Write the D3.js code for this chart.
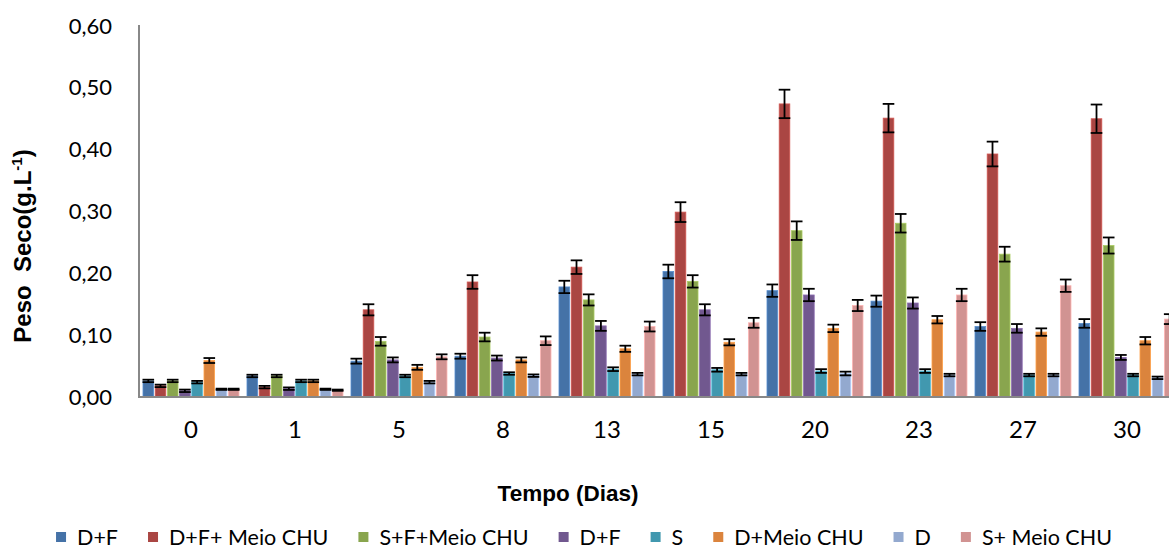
<!DOCTYPE html>
<html>
<head>
<meta charset="utf-8">
<script src="https://cdn.jsdelivr.net/npm/d3@7"></script>
<style>
  html, body { margin: 0; padding: 0; background: #fff; }
  svg { display: block; }
</style>
</head>
<body>
<div id="chart"></div>
<script>
// ---- data ----
const days = ["0", "1", "5", "8", "13", "15", "20", "23", "27", "30"];
const seriesNames = ["D+F", "D+F+ Meio CHU", "S+F+Meio CHU", "D+F", "S", "D+Meio CHU", "D", "S+ Meio CHU"];
const seriesColors = ["#4572A7", "#AA4643", "#89A54E", "#71588F", "#4198AF", "#DB843D", "#93A9CF", "#D19392"];

const dfValues      = [0.026, 0.034, 0.058, 0.066, 0.178, 0.203, 0.172, 0.155, 0.114, 0.119];
const dfMeioValues  = [0.018, 0.016, 0.141, 0.186, 0.210, 0.299, 0.474, 0.451, 0.393, 0.450];
const sfMeioValues  = [0.026, 0.034, 0.090, 0.097, 0.157, 0.187, 0.269, 0.281, 0.231, 0.245];
const df2Values     = [0.010, 0.0135, 0.060, 0.063, 0.115, 0.141, 0.165, 0.152, 0.111, 0.064];
const sValues       = [0.024, 0.026, 0.034, 0.038, 0.045, 0.044, 0.042, 0.042, 0.0355, 0.0355];
const dMeioValues   = [0.059, 0.026, 0.048, 0.060, 0.078, 0.0885, 0.111, 0.125, 0.105, 0.091];
const dValues       = [0.0125, 0.0125, 0.024, 0.0345, 0.037, 0.037, 0.038, 0.0355, 0.0355, 0.031];
const sMeioValues   = [0.0125, 0.011, 0.065, 0.091, 0.114, 0.120, 0.148, 0.165, 0.180, 0.126];

const dfErr      = [0.002, 0.002, 0.004, 0.004, 0.010, 0.011, 0.010, 0.009, 0.007, 0.007];
const dfMeioErr  = [0.002, 0.002, 0.009, 0.011, 0.011, 0.016, 0.023, 0.023, 0.020, 0.023];
const sfMeioErr  = [0.002, 0.002, 0.007, 0.007, 0.009, 0.010, 0.015, 0.015, 0.012, 0.013];
const df2Err     = [0.002, 0.002, 0.004, 0.004, 0.008, 0.009, 0.010, 0.009, 0.007, 0.004];
const sErr       = [0.002, 0.002, 0.002, 0.002, 0.003, 0.003, 0.003, 0.003, 0.002, 0.002];
const dMeioErr   = [0.004, 0.002, 0.004, 0.004, 0.005, 0.005, 0.006, 0.006, 0.006, 0.006];
const dErr       = [0.001, 0.001, 0.002, 0.002, 0.002, 0.002, 0.003, 0.002, 0.002, 0.002];
const sMeioErr   = [0.001, 0.001, 0.004, 0.007, 0.008, 0.008, 0.009, 0.010, 0.010, 0.008];

const yTicks = [0, 0.1, 0.2, 0.3, 0.4, 0.5, 0.6];

const allValues = [dfValues, dfMeioValues, sfMeioValues, df2Values, sValues, dMeioValues, dValues, sMeioValues];
const allErrors = [dfErr, dfMeioErr, sfMeioErr, df2Err, sErr, dMeioErr, dErr, sMeioErr];

// ---- layout ----
const W = 1169, H = 550;
const plotLeft = 139, plotBottom = 397, plotTop = 26;
const bandStep = 104;

const svg = d3.select("#chart").append("svg")
  .attr("width", W).attr("height", H);

const x0 = d3.scaleBand()
  .domain(days)
  .range([plotLeft, plotLeft + bandStep * days.length])
  .paddingInner(0).paddingOuter(0);

const x1 = d3.scaleBand()
  .domain(d3.range(seriesNames.length))
  .range([4, bandStep - 4])
  .paddingInner(0.13);

const y = d3.scaleLinear().domain([0, 0.6]).range([plotBottom, plotTop]);

const fmt = v => d3.format(".2f")(v).replace(".", ",");

// y tick labels
const yAxis = d3.axisLeft(y).tickValues(yTicks).tickFormat(fmt).tickSize(0).tickPadding(27);
const gy = svg.append("g").attr("transform", `translate(${plotLeft},0)`).call(yAxis);
gy.select(".domain").remove();
gy.selectAll("text")
  .attr("font-family", "Lato, 'Open Sans', sans-serif")
  .attr("font-size", 22)
  .attr("fill", "#000");

const cells = [];
days.forEach((d, i) => {
  allValues.forEach((vals, s) => {
    cells.push({ day: d, s, v: vals[i], e: allErrors[s][i] });
  });
});

// bars
const barG = svg.append("g");
barG.selectAll("rect")
  .data(cells)
  .join("rect")
  .attr("x", c => x0(c.day) + x1(c.s))
  .attr("y", c => y(c.v))
  .attr("width", x1.bandwidth())
  .attr("height", c => y(0) - y(c.v))
  .attr("fill", c => seriesColors[c.s])
  .attr("stroke", c => d3.color(seriesColors[c.s]).brighter(0.6))
  .attr("stroke-width", 0.8);

// error bars
const errG = svg.append("g").attr("stroke", "#000").attr("stroke-width", 1.8);
cells.forEach(c => {
  const cx = x0(c.day) + x1(c.s) + x1.bandwidth() / 2;
  const hw = x1.bandwidth() / 2 + 0.5;
  const yt = y(c.v + c.e), yb = y(c.v - c.e);
  errG.append("line").attr("x1", cx).attr("x2", cx).attr("y1", yt).attr("y2", yb);
  errG.append("line").attr("x1", cx - hw).attr("x2", cx + hw).attr("y1", yt).attr("y2", yt);
  errG.append("line").attr("x1", cx - hw).attr("x2", cx + hw).attr("y1", yb).attr("y2", yb);
});

// axis lines
svg.append("line")
  .attr("x1", plotLeft).attr("x2", plotLeft)
  .attr("y1", y(0.6) - 1).attr("y2", plotBottom + 1)
  .attr("stroke", "#888").attr("stroke-width", 2);

const xAxis = d3.axisBottom(x0).tickSize(0).tickPadding(24);
const gx = svg.append("g").attr("transform", `translate(0,${plotBottom})`).call(xAxis);
gx.select(".domain").attr("stroke", "#888").attr("stroke-width", 2)
  .attr("d", `M${plotLeft},0H${W}`);
gx.selectAll("text")
  .attr("font-family", "Lato, 'Open Sans', sans-serif")
  .attr("font-size", 24)
  .attr("fill", "#000");

// axis titles
svg.append("text")
  .attr("x", 568).attr("y", 501)
  .attr("text-anchor", "middle")
  .attr("font-family", "'Liberation Sans', Arial, sans-serif")
  .attr("font-weight", "bold")
  .attr("font-size", 22.5)
  .text("Tempo (Dias)");

const yt = svg.append("text")
  .attr("transform", "translate(31,246) rotate(-90)")
  .attr("text-anchor", "middle")
  .attr("font-family", "'Liberation Sans', Arial, sans-serif")
  .attr("font-weight", "bold")
  .attr("font-size", 24)
  .style("white-space", "pre");
yt.append("tspan").text("Peso  Seco(g.L");
yt.append("tspan").attr("font-size", 15).attr("dy", -9).text("-1");
yt.append("tspan").attr("dy", 9).text(")");

// legend
const legend = svg.append("g");
const items = legend.selectAll("g").data(seriesNames).join("g");
items.append("rect").attr("width", 10).attr("height", 10).attr("y", -5)
  .attr("fill", (d, i) => seriesColors[i]);
items.append("text")
  .attr("x", 21).attr("y", 0).attr("dy", "0.35em")
  .attr("font-family", "Lato, 'Open Sans', sans-serif")
  .attr("font-size", 21.5)
  .text(d => d);
const gap = 30;
const widths = [];
items.each(function () { widths.push(this.getBBox().width); });
const total = d3.sum(widths) + gap * (widths.length - 1);
let start = 584 - total / 2;
items.attr("transform", (d, i) => {
  const xx = start;
  start += widths[i] + gap;
  return `translate(${xx},537)`;
});
</script>
</body>
</html>
